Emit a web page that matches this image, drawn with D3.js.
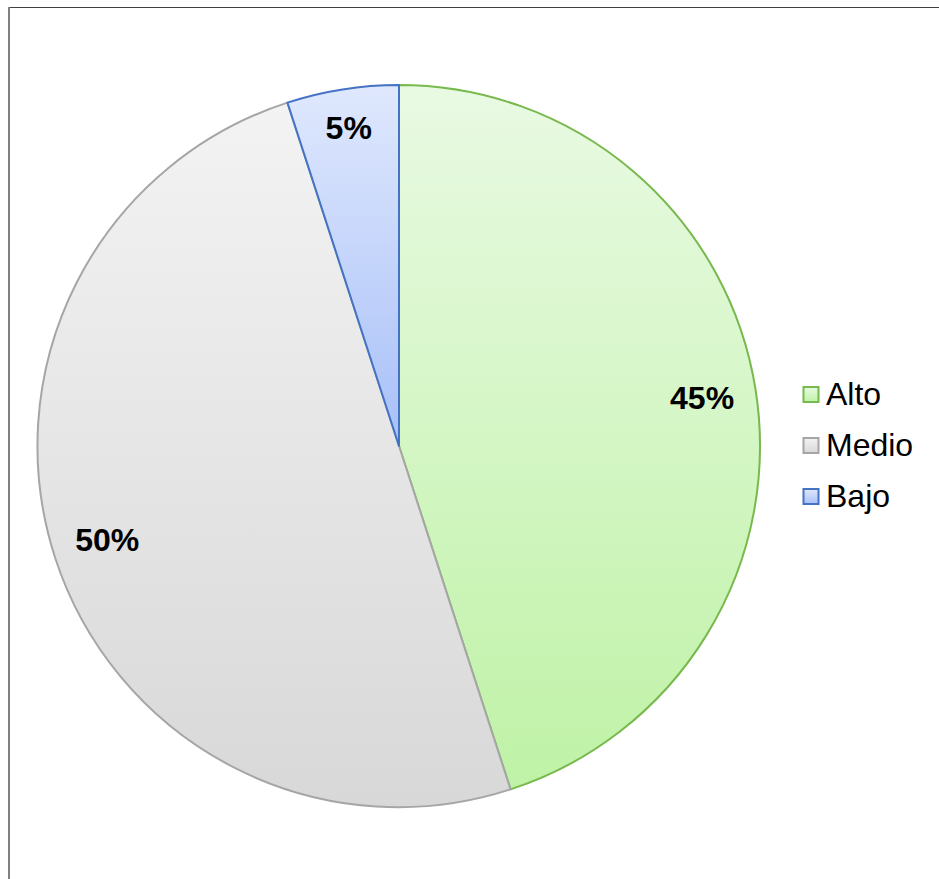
<!DOCTYPE html>
<html>
<head>
<meta charset="utf-8">
<script src="https://cdn.jsdelivr.net/npm/d3@7/dist/d3.min.js"></script>
<style>
html,body{margin:0;padding:0;background:#fff;}
svg{display:block;font-family:"Liberation Sans",Arial,sans-serif;}
</style>
</head>
<body>
<svg id="chart" width="939" height="879"></svg>
<script>
const categories = ["Alto", "Medio", "Bajo"];
const values = [45, 50, 5];
const labels = ["45%", "50%", "5%"];

const fillTop = ["#e9fae3", "#f3f3f3", "#dfe8fd"];
const fillBottom = ["#bff2a6", "#d8d8d8", "#a8c0f8"];
const strokes = ["#77b94d", "#a6a6a6", "#4472c4"];

const W = 939, H = 879;
const svg = d3.select("#chart");
const cx = 399, cy = 446, R = 361;

// frame
svg.append("line").attr("x1", 8).attr("x2", W).attr("y1", 7.5).attr("y2", 7.5)
  .attr("stroke", "#404040").attr("stroke-width", 1);
svg.append("line").attr("x1", 9).attr("x2", 9).attr("y1", 7).attr("y2", H)
  .attr("stroke", "#808080").attr("stroke-width", 2);

const defs = svg.append("defs");
categories.forEach((c, i) => {
  const g = defs.append("linearGradient").attr("id", "grad" + i)
    .attr("x1", 0).attr("y1", 0).attr("x2", 0).attr("y2", 1);
  g.append("stop").attr("offset", "0%").attr("stop-color", fillTop[i]);
  g.append("stop").attr("offset", "100%").attr("stop-color", fillBottom[i]);
});

const data = categories.map((c, i) => ({cat: c, value: values[i], label: labels[i], i}));
const pie = d3.pie().value(d => d.value).sort(null);
const arcs = pie(data);
const arc = d3.arc().innerRadius(0).outerRadius(R);

const g = svg.append("g").attr("transform", `translate(${cx},${cy})`);
g.selectAll("path.slice").data(arcs).enter().append("path")
  .attr("class", "slice")
  .attr("d", arc)
  .attr("fill", d => `url(#grad${d.data.i})`)
  .attr("stroke", d => strokes[d.data.i])
  .attr("stroke-width", 2)
  .attr("stroke-linejoin", "round");

const total = d3.sum(values);
g.selectAll("text.lbl").data(arcs).enter().append("text")
  .attr("class", "lbl")
  .attr("transform", d => {
    const share = d.data.value / total;
    const rr = share < 0.1 ? R * 0.89 : R * 0.85;
    const a = (d.startAngle + d.endAngle) / 2;
    return `translate(${rr * Math.sin(a)},${-rr * Math.cos(a)})`;
  })
  .attr("text-anchor", "middle")
  .attr("dy", "0.33em")
  .attr("font-size", 32)
  .attr("font-weight", "bold")
  .attr("fill", "#000")
  .text(d => d.data.label);

// legend
const legend = svg.append("g").attr("transform", "translate(803,394)");
const items = legend.selectAll("g").data(data).enter().append("g")
  .attr("transform", (d, i) => `translate(0,${i * 51})`);
items.append("rect").attr("x", 0.5).attr("y", -7).attr("width", 15).attr("height", 15)
  .attr("fill", d => `url(#grad${d.i})`)
  .attr("stroke", d => strokes[d.i]).attr("stroke-width", 2);
items.append("text").attr("x", 23).attr("dy", "0.35em")
  .attr("font-size", 32).attr("fill", "#000")
  .text(d => d.cat);
</script>
</body>
</html>
